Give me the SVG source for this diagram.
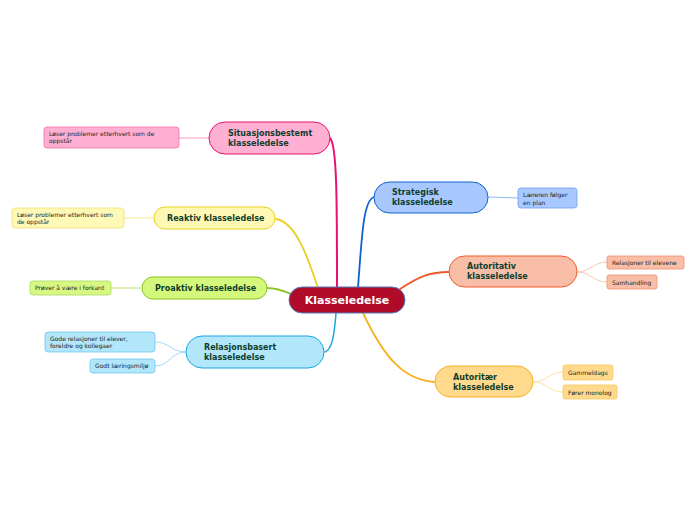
<svg xmlns="http://www.w3.org/2000/svg" width="696" height="520" viewBox="0 0 696 520">
<style>
.t{font-family:"DejaVu Sans",Verdana,sans-serif;font-weight:bold;font-size:8px;fill:#0f3d2c}
.l{font-family:"DejaVu Sans",Verdana,sans-serif;font-size:6px;fill:#222}
.c{fill:none;stroke-linecap:round}
</style>
<rect width="696" height="520" fill="#fff"/>
<g id="connectors">
<path class="c" d="M337 288 C337 200 337 145 330 138" stroke="#e8116f" stroke-width="2"/>
<path class="c" d="M318 288 C308 258 296 222 276 219" stroke="#e8d020" stroke-width="1.8"/>
<path class="c" d="M291 294 C282 290 276 288 267 288" stroke="#8cc020" stroke-width="1.8"/>
<path class="c" d="M336 313 C334 340 331 350 325 352" stroke="#18a8e0" stroke-width="1.5"/>
<path class="c" d="M358 288 C362 230 364 200 374 197" stroke="#1060d0" stroke-width="1.8"/>
<path class="c" d="M400 289 C420 276 430 272 449 272" stroke="#f05a28" stroke-width="1.8"/>
<path class="c" d="M363 313 C385 360 405 380 435 382" stroke="#f8b020" stroke-width="1.8"/>
<path class="c" d="M179 138 L209 138" stroke="#ff9cc4" stroke-width="1"/>
<path class="c" d="M124 218 L154 218" stroke="#f8ec90" stroke-width="1"/>
<path class="c" d="M111 288 L142 288" stroke="#b8e070" stroke-width="1"/>
<path class="c" d="M186 352 C170 352 170 342 155 342 M186 352 C170 352 170 366 155 366" stroke="#88d0f0" stroke-width="0.8"/>
<path class="c" d="M488 197 L518 198" stroke="#90b8f0" stroke-width="1"/>
<path class="c" d="M577 272 C592 272 592 262 607 262 M577 272 C592 272 592 282 607 282" stroke="#f8b8a0" stroke-width="0.8"/>
<path class="c" d="M533 382 C548 382 548 372 563 372 M533 382 C548 382 548 392 563 392" stroke="#ffd890" stroke-width="0.8"/>
</g>
<g id="central">
<rect x="289" y="287" width="116" height="26" rx="13" fill="#b00c2a" stroke="#4a80c0" stroke-width="1"/>
<text x="347" y="304" text-anchor="middle" style="font-family:'DejaVu Sans',Verdana,sans-serif;font-weight:bold;font-size:11px;fill:#fff">Klasseledelse</text>
</g>
<g id="situasjonsbestemt">
<rect x="209" y="122" width="121" height="32" rx="16" fill="#ffb0d2" stroke="#e8116f" stroke-width="1"/>
<text class="t" x="228" y="136">Situasjonsbestemt</text>
<text class="t" x="228" y="146">klasseledelse</text>
</g>
<g id="situasjonsbestemt-leaf">
<rect x="44" y="127" width="135" height="21" rx="3" fill="#ffb0d2" stroke="#f070a4" stroke-width="0.8"/>
<text class="l" x="49" y="136">Løser problemer etterhvert som de</text>
<text class="l" x="49" y="143">oppstår</text>
</g>
<g id="reaktiv">
<rect x="154" y="207" width="121" height="22" rx="11" fill="#fff8b4" stroke="#e8d020" stroke-width="1"/>
<text class="t" x="167" y="221">Reaktiv klasseledelse</text>
</g>
<g id="reaktiv-leaf">
<rect x="12" y="208" width="112" height="20" rx="3" fill="#fff9b8" stroke="#f0e070" stroke-width="0.8"/>
<text class="l" x="17" y="217">Løser problemer etterhvert som</text>
<text class="l" x="17" y="224">de oppstår</text>
</g>
<g id="proaktiv">
<rect x="142" y="277" width="125" height="22" rx="11" fill="#d4f87c" stroke="#8cc020" stroke-width="1"/>
<text class="t" x="155" y="291">Proaktiv klasseledelse</text>
</g>
<g id="proaktiv-leaf">
<rect x="30" y="281" width="81" height="14" rx="3" fill="#d8f884" stroke="#a8d860" stroke-width="0.8"/>
<text class="l" x="35" y="290">Prøver å være i forkant</text>
</g>
<g id="relasjonsbasert">
<rect x="186" y="336" width="138" height="32" rx="16" fill="#b2e6fa" stroke="#18a8e0" stroke-width="1"/>
<text class="t" x="204" y="350">Relasjonsbasert</text>
<text class="t" x="204" y="360">klasseledelse</text>
</g>
<g id="relasjonsbasert-leaf1">
<rect x="45" y="332" width="110" height="20" rx="3" fill="#b2e6fa" stroke="#70c8f0" stroke-width="0.8"/>
<text class="l" x="50" y="341">Gode relasjoner til elever,</text>
<text class="l" x="50" y="348">foreldre og kollegaer</text>
</g>
<g id="relasjonsbasert-leaf2">
<rect x="90" y="359" width="65" height="14" rx="3" fill="#b2e6fa" stroke="#70c8f0" stroke-width="0.8"/>
<text class="l" x="95" y="368">Godt læringsmiljø</text>
</g>
<g id="strategisk">
<rect x="374" y="182" width="114" height="31" rx="15.5" fill="#a8c8ff" stroke="#1060d0" stroke-width="1"/>
<text class="t" x="392" y="195">Strategisk</text>
<text class="t" x="392" y="205">klasseledelse</text>
</g>
<g id="strategisk-leaf">
<rect x="518" y="188" width="59" height="20" rx="3" fill="#a8c8ff" stroke="#70a0f0" stroke-width="0.8"/>
<text class="l" x="523" y="197">Læreren følger</text>
<text class="l" x="523" y="205">en plan</text>
</g>
<g id="autoritativ">
<rect x="449" y="256" width="128" height="31" rx="15.5" fill="#f8bea8" stroke="#f05a28" stroke-width="1"/>
<text class="t" x="467" y="269">Autoritativ</text>
<text class="t" x="467" y="279">klasseledelse</text>
</g>
<g id="autoritativ-leaf1">
<rect x="607" y="256" width="77" height="13" rx="2" fill="#f8bea8" stroke="#f09070" stroke-width="0.8"/>
<text class="l" x="612" y="264.5">Relasjoner til elevene</text>
</g>
<g id="autoritativ-leaf2">
<rect x="607" y="275" width="50" height="14" rx="2" fill="#f8bea8" stroke="#f09070" stroke-width="0.8"/>
<text class="l" x="612" y="284.5">Samhandling</text>
</g>
<g id="autoritaer">
<rect x="435" y="366" width="98" height="31" rx="15.5" fill="#ffda8c" stroke="#f8b020" stroke-width="1"/>
<text class="t" x="453" y="380">Autoritær</text>
<text class="t" x="453" y="390">klasseledelse</text>
</g>
<g id="autoritaer-leaf1">
<rect x="563" y="365" width="50" height="15" rx="2" fill="#ffda8c" stroke="#f8c860" stroke-width="0.8"/>
<text class="l" x="568" y="374.5">Gammeldags</text>
</g>
<g id="autoritaer-leaf2">
<rect x="563" y="385" width="54" height="14" rx="2" fill="#ffda8c" stroke="#f8c860" stroke-width="0.8"/>
<text class="l" x="568" y="394.5">Fører monolog</text>
</g>
</svg>
